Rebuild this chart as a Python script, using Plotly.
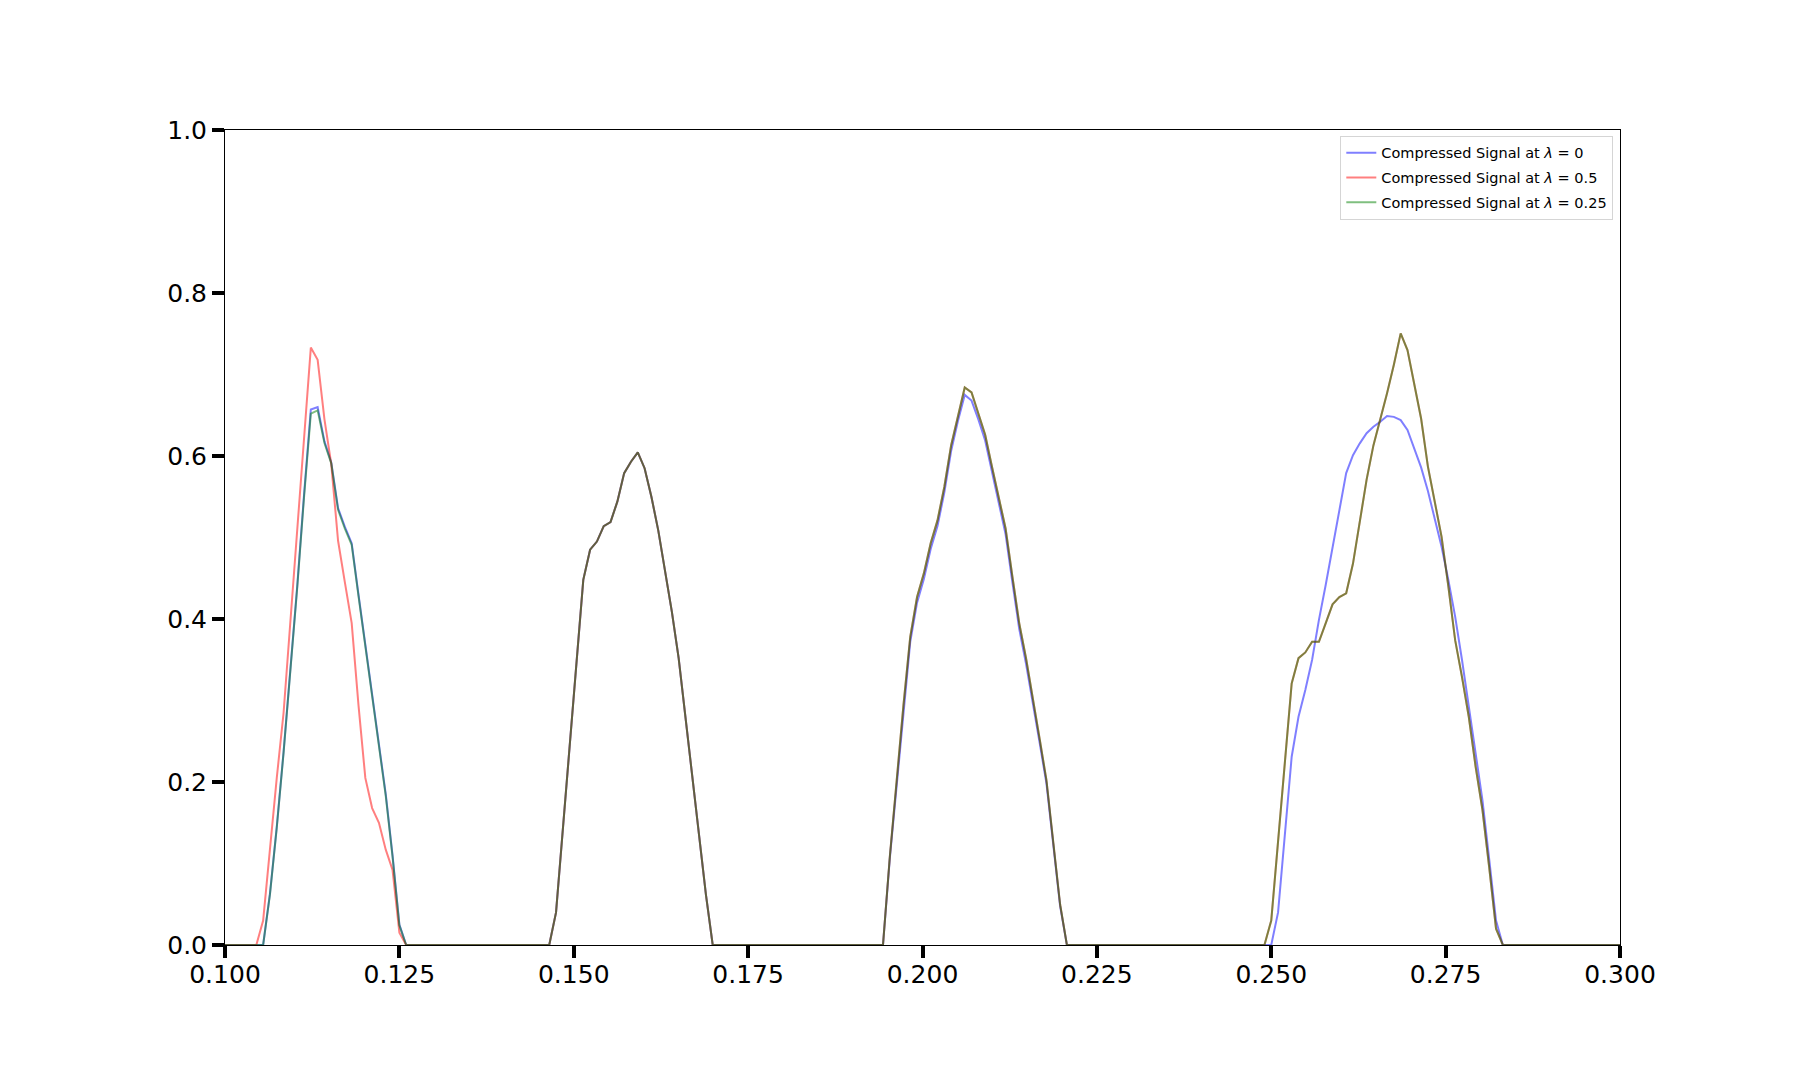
import numpy as np
import plotly.graph_objects as go

# ---- sample grid (x = k * SAMPLE_STEP) ----
SAMPLE_STEP = 1 / 1024
GRID_START, GRID_END = 102, 308

# ---- series values per pulse: (first sample index, values) ----
blue_p1_start = 108
blue_p1 = [0, 0.063, 0.145, 0.237, 0.335, 0.44, 0.552, 0.657, 0.660, 0.618, 0.592,
           0.536, 0.513, 0.493, 0.43, 0.37, 0.31, 0.25, 0.185, 0.11, 0.025, 0]
red_p1_start = 107
red_p1 = [0, 0.03, 0.12, 0.205, 0.285, 0.40, 0.51, 0.62, 0.733, 0.718, 0.645, 0.59,
          0.496, 0.445, 0.395, 0.294, 0.205, 0.168, 0.150, 0.117, 0.092, 0.015, 0]
green_p1_start = 108
green_p1 = [0, 0.062, 0.144, 0.236, 0.333, 0.438, 0.549, 0.652, 0.656, 0.616, 0.591,
            0.534, 0.511, 0.491, 0.428, 0.368, 0.308, 0.248, 0.183, 0.108, 0.024, 0]

p2_start = 150
blue_p2 = [0, 0.04, 0.142, 0.244, 0.346, 0.448, 0.485, 0.495, 0.514, 0.519, 0.544, 0.579,
           0.593, 0.6045, 0.585, 0.550, 0.509, 0.460, 0.409, 0.352, 0.280, 0.207, 0.133, 0.062, 0]
red_p2 = [0, 0.04, 0.142, 0.244, 0.346, 0.448, 0.485, 0.495, 0.514, 0.519, 0.544, 0.579,
          0.593, 0.6045, 0.585, 0.550, 0.509, 0.460, 0.409, 0.352, 0.280, 0.207, 0.133, 0.062, 0]
green_p2 = [0, 0.04, 0.142, 0.244, 0.346, 0.448, 0.485, 0.495, 0.514, 0.519, 0.544, 0.579,
            0.593, 0.6045, 0.585, 0.550, 0.509, 0.460, 0.409, 0.352, 0.280, 0.207, 0.133, 0.062, 0]

p3_start = 199
blue_p3 = [0, 0.106, 0.198, 0.289, 0.372, 0.420, 0.449, 0.486, 0.514, 0.555, 0.606, 0.643,
           0.675, 0.668, 0.645, 0.619, 0.580, 0.541, 0.504, 0.445, 0.388, 0.345, 0.299,
           0.248, 0.198, 0.126, 0.048, 0]
red_p3 = [0, 0.108, 0.202, 0.294, 0.378, 0.427, 0.456, 0.493, 0.521, 0.562, 0.613, 0.650,
          0.684, 0.678, 0.652, 0.626, 0.587, 0.548, 0.511, 0.452, 0.395, 0.352, 0.305,
          0.253, 0.202, 0.129, 0.05, 0]
green_p3 = [0, 0.108, 0.202, 0.294, 0.378, 0.427, 0.456, 0.493, 0.521, 0.562, 0.613, 0.650,
            0.684, 0.678, 0.652, 0.626, 0.587, 0.548, 0.511, 0.452, 0.395, 0.352, 0.305,
            0.253, 0.202, 0.129, 0.05, 0]

p4_start = 255
blue_p4 = [0, 0, 0.04, 0.135, 0.231, 0.280, 0.313, 0.350, 0.399, 0.442, 0.489, 0.534,
           0.579, 0.601, 0.6155, 0.628, 0.636, 0.642, 0.649, 0.648, 0.644, 0.632, 0.610,
           0.586, 0.557, 0.5235, 0.489, 0.448, 0.403, 0.350, 0.292, 0.235, 0.178, 0.105,
           0.03, 0]
red_p4 = [0, 0.03, 0.127, 0.224, 0.321, 0.352, 0.359, 0.372, 0.372, 0.395, 0.418, 0.427,
          0.4315, 0.468, 0.521, 0.571, 0.613, 0.644, 0.677, 0.712, 0.7505, 0.730, 0.689,
          0.646, 0.587, 0.546, 0.501, 0.440, 0.374, 0.329, 0.280, 0.219, 0.166, 0.095,
          0.02, 0]
green_p4 = [0, 0.03, 0.127, 0.224, 0.321, 0.352, 0.359, 0.372, 0.372, 0.395, 0.418, 0.427,
            0.4315, 0.468, 0.521, 0.571, 0.613, 0.644, 0.677, 0.712, 0.7505, 0.730, 0.689,
            0.646, 0.587, 0.546, 0.501, 0.440, 0.374, 0.329, 0.280, 0.219, 0.166, 0.095,
            0.02, 0]

series_names = [
    "Compressed Signal at <i>λ</i> = 0",
    "Compressed Signal at <i>λ</i> = 0.5",
    "Compressed Signal at <i>λ</i> = 0.25",
]
series_colors = ["rgba(0,0,255,0.5)", "rgba(255,0,0,0.5)", "rgba(0,128,0,0.5)"]

x_ticks = [0.100, 0.125, 0.150, 0.175, 0.200, 0.225, 0.250, 0.275, 0.300]
y_ticks = [0.0, 0.2, 0.4, 0.6, 0.8, 1.0]


def build(segments):
    y = np.zeros(GRID_END - GRID_START + 1)
    for start, vals in segments:
        i = start - GRID_START
        y[i:i + len(vals)] = vals
    return y


x = np.arange(GRID_START, GRID_END + 1) * SAMPLE_STEP
ys = [
    build([(blue_p1_start, blue_p1), (p2_start, blue_p2), (p3_start, blue_p3), (p4_start, blue_p4)]),
    build([(red_p1_start, red_p1), (p2_start, red_p2), (p3_start, red_p3), (p4_start, red_p4)]),
    build([(green_p1_start, green_p1), (p2_start, green_p2), (p3_start, green_p3), (p4_start, green_p4)]),
]

fig = go.Figure()
for i, (name, color, y) in enumerate(zip(series_names, series_colors, ys)):
    fig.add_trace(go.Scatter(x=x, y=y, mode="lines", name=name, legendgroup=f"g{i}",
                             line=dict(color=color, width=2)))

axis_common = dict(
    showgrid=False, zeroline=False, showline=True, linecolor="black", linewidth=1,
    mirror=True, ticks="outside", ticklen=12, tickwidth=4, tickcolor="black",
    tickfont=dict(family="DejaVu Sans", size=25, color="black"),
)
fig.update_xaxes(range=[0.1, 0.3], tickvals=x_ticks, ticklabelstandoff=-5,
                 ticktext=[f"{v:.3f}" for v in x_ticks], **axis_common)
fig.update_yaxes(range=[0, 1], tickvals=y_ticks,
                 ticktext=[f"{v:.1f}" for v in y_ticks], **axis_common)

fig.update_layout(
    width=1800, height=1080,
    margin=dict(l=225, r=180, t=130, b=135, pad=0),
    paper_bgcolor="white", plot_bgcolor="white",
    legend=dict(x=0.9952, y=0.993, xanchor="right", yanchor="top",
                bordercolor="#d5d5d5", borderwidth=1, bgcolor="rgba(255,255,255,0.8)",
                font=dict(family="DejaVu Sans", size=14.5, color="black"),
                tracegroupgap=3),
)

fig.write_html("out.html", config={"displayModeBar": False})

# remove the default page margin so the figure sits at the window origin
with open("out.html", encoding="utf-8") as f:
    html = f.read()
html = html.replace("<head>", "<head><style>html,body{margin:0;padding:0;}</style>", 1)
with open("out.html", "w", encoding="utf-8") as f:
    f.write(html)
